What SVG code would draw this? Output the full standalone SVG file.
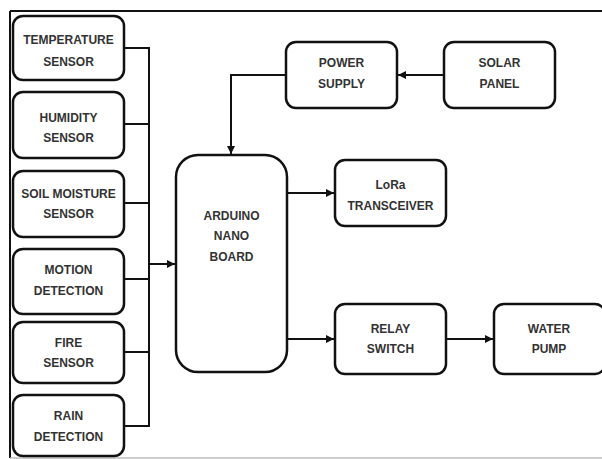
<svg xmlns="http://www.w3.org/2000/svg" width="602" height="459" viewBox="0 0 602 459">
<style>
.box{fill:#fff;stroke:#111;stroke-width:2.5}
.t{font-family:"Liberation Sans",Arial,sans-serif;font-weight:bold;font-size:12px;fill:#333;text-anchor:middle}
.c{fill:none;stroke:#111;stroke-width:2}
</style>
<defs>
<marker id="ah" viewBox="0 0 10 10" refX="10" refY="5" markerWidth="4" markerHeight="4" orient="auto" markerUnits="strokeWidth">
<path d="M0,0 L10,5 L0,10 z" fill="#111"/>
</marker>
</defs>
<rect x="0" y="0" width="602" height="459" fill="#fff"/>
<g id="frame">
<line x1="10" y1="11" x2="602" y2="11" stroke="#111" stroke-width="2"/>
<line x1="10" y1="11" x2="10" y2="458" stroke="#111" stroke-width="2"/>
<line x1="10" y1="458" x2="602" y2="458" stroke="#bbb" stroke-width="1.5"/>
</g>
<g id="connectors">
<path class="c" d="M124,48 H149 M124,124 H149 M124,203 H149 M124,279 H149 M124,352 H149 M124,426 H149 M149,47 V427"/>
<path class="c" d="M149,264 H175" marker-end="url(#ah)"/>
<path class="c" d="M286,75 H231 V154" marker-end="url(#ah)"/>
<path class="c" d="M444,75 H398" marker-end="url(#ah)"/>
<path class="c" d="M287,193 H334" marker-end="url(#ah)"/>
<path class="c" d="M287,339 H334" marker-end="url(#ah)"/>
<path class="c" d="M446,339 H493" marker-end="url(#ah)"/>
</g>
<g id="temperature">
<rect class="box" x="13" y="16" width="111" height="64" rx="10"/>
<text class="t" x="68.5" y="43.5">TEMPERATURE</text>
<text class="t" x="68.5" y="65.5">SENSOR</text>
</g>
<g id="humidity">
<rect class="box" x="13" y="92" width="111" height="66" rx="10"/>
<text class="t" x="68.5" y="121.5">HUMIDITY</text>
<text class="t" x="68.5" y="142">SENSOR</text>
</g>
<g id="soil">
<rect class="box" x="13" y="171" width="111" height="66" rx="10"/>
<text class="t" x="68.5" y="197.5">SOIL MOISTURE</text>
<text class="t" x="68.5" y="218">SENSOR</text>
</g>
<g id="motion">
<rect class="box" x="13" y="249" width="111" height="65" rx="10"/>
<text class="t" x="68.5" y="274">MOTION</text>
<text class="t" x="68.5" y="294.5">DETECTION</text>
</g>
<g id="fire">
<rect class="box" x="13" y="322" width="111" height="61" rx="10"/>
<text class="t" x="68.5" y="346.5">FIRE</text>
<text class="t" x="68.5" y="366.5">SENSOR</text>
</g>
<g id="rain">
<rect class="box" x="13" y="395" width="111" height="61" rx="10"/>
<text class="t" x="68.5" y="420">RAIN</text>
<text class="t" x="68.5" y="440.5">DETECTION</text>
</g>
<g id="arduino">
<rect class="box" x="176" y="155" width="111" height="217" rx="22"/>
<text class="t" x="231.5" y="219.5">ARDUINO</text>
<text class="t" x="231.5" y="240">NANO</text>
<text class="t" x="231.5" y="260.5">BOARD</text>
</g>
<g id="power">
<rect class="box" x="286" y="42" width="111" height="66" rx="10"/>
<text class="t" x="341.5" y="67">POWER</text>
<text class="t" x="341.5" y="87.5">SUPPLY</text>
</g>
<g id="solar">
<rect class="box" x="444" y="42" width="111" height="66" rx="10"/>
<text class="t" x="499.5" y="67">SOLAR</text>
<text class="t" x="499.5" y="87.5">PANEL</text>
</g>
<g id="lora">
<rect class="box" x="335" y="160" width="111" height="66" rx="10"/>
<text class="t" x="390.5" y="189">LoRa</text>
<text class="t" x="390.5" y="209.5">TRANSCEIVER</text>
</g>
<g id="relay">
<rect class="box" x="335" y="304" width="111" height="70" rx="10"/>
<text class="t" x="390.5" y="332.5">RELAY</text>
<text class="t" x="390.5" y="353">SWITCH</text>
</g>
<g id="pump">
<rect class="box" x="494" y="304" width="111" height="70" rx="10"/>
<text class="t" x="549" y="332.5">WATER</text>
<text class="t" x="549" y="353">PUMP</text>
</g>
</svg>
